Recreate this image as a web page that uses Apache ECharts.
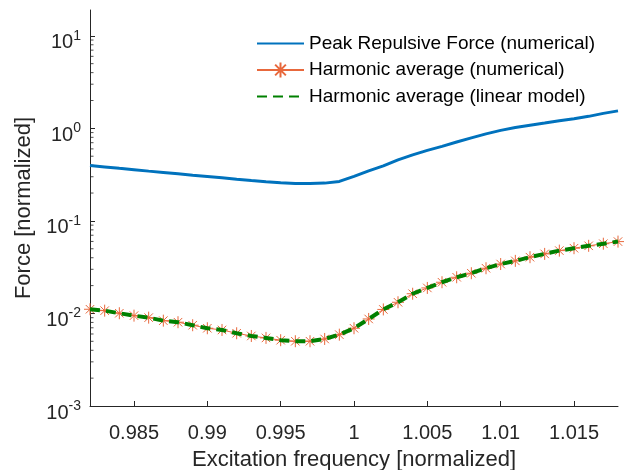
<!DOCTYPE html>
<html>
<head>
<meta charset="utf-8">
<script src="https://cdn.jsdelivr.net/npm/echarts@6/dist/echarts.min.js"></script>
<style>
html,body{margin:0;padding:0;background:#fff;}
#chart{width:631px;height:470px;}
</style>
</head>
<body>
<div id="chart"></div>
<script>
var freq = [0.982,0.983,0.984,0.985,0.986,0.987,0.988,0.989,0.990,0.991,0.992,0.993,0.994,0.995,0.996,0.997,0.998,0.999,1.000,
            1.001,1.002,1.003,1.004,1.005,1.006,1.007,1.008,1.009,1.010,1.011,1.012,1.013,1.014,1.015,1.016,1.017,1.018];
var peakForce = [0.396,0.383,0.370,0.358,0.345,0.334,0.323,0.312,0.302,0.292,0.282,0.273,0.265,0.259,0.254,0.254,0.256,0.267,0.303,
                 0.347,0.393,0.457,0.517,0.578,0.639,0.711,0.789,0.872,0.951,1.023,1.081,1.141,1.205,1.267,1.348,1.452,1.545];
var harmNumerical = [0.01110,0.01072,0.01005,0.00947,0.00901,0.00836,0.00804,0.00746,0.00692,0.00663,0.00611,0.00571,0.00544,0.00514,0.00501,0.00501,0.00530,0.00590,0.00692,
                     0.00872,0.01105,0.01321,0.01633,0.01887,0.02174,0.02461,0.02720,0.03081,0.03420,0.03700,0.04055,0.04400,0.04775,0.05070,0.05380,0.05670,0.05975];
var harmLinear = [0.01110,0.01072,0.01005,0.00947,0.00901,0.00836,0.00804,0.00746,0.00692,0.00663,0.00611,0.00571,0.00544,0.00514,0.00501,0.00501,0.00530,0.00590,0.00692,
                  0.00872,0.01105,0.01321,0.01633,0.01887,0.02174,0.02461,0.02720,0.03081,0.03420,0.03700,0.04055,0.04400,0.04775,0.05070,0.05380,0.05670,0.05975];
var xTicks = [0.985,0.990,0.995,1.000,1.005,1.010,1.015];
var yMajorTicks = [0.001,0.01,0.1,1,10];
var yMinorTicks = [0.002,0.003,0.004,0.005,0.006,0.007,0.008,0.009,
                   0.02,0.03,0.04,0.05,0.06,0.07,0.08,0.09,
                   0.2,0.3,0.4,0.5,0.6,0.7,0.8,0.9,
                   2,3,4,5,6,7,8,9];
var xMin = 0.982, xMax = 1.018, yMin = 0.001, yMax = 19;
var seriesNames = ['Peak Repulsive Force (numerical)','Harmonic average (numerical)','Harmonic average (linear model)'];

function pairs(ys){ return freq.map(function(f,i){ return [f, ys[i]]; }); }

var FONT = 'Liberation Sans, Arial, sans-serif';
var AX = '#262626';
var asterisk = 'path://M0,-10L0,10M-10,0L10,0M-7.07,-7.07L7.07,7.07M-7.07,7.07L7.07,-7.07';
var noSym = {color: 'rgba(0,0,0,0)', borderWidth: 0, borderColor: 'rgba(0,0,0,0)'};

var chart = echarts.init(document.getElementById('chart'), null, {renderer:'canvas'});
chart.setOption({
  animation: false,
  backgroundColor: '#fff',
  textStyle: {fontFamily: FONT},
  grid: {left: 90, right: 13, top: 10, bottom: 64, containLabel: false, outerBoundsMode: 'none'},
  legend: {
    orient: 'vertical', left: 256, top: 34, padding: 0,
    itemWidth: 47, itemHeight: 19, itemGap: 7.5,
    textStyle: {fontSize: 19, color: '#000', fontFamily: FONT},
    data: [
      {name: seriesNames[0], itemStyle: noSym},
      {name: seriesNames[1]},
      {name: seriesNames[2], itemStyle: noSym}
    ]
  },
  xAxis: {
    type: 'value', min: xMin, max: xMax,
    name: 'Excitation frequency [normalized]', nameLocation: 'middle', nameGap: 43,
    nameTextStyle: {fontSize: 22, color: AX, fontFamily: FONT},
    axisLine: {show: true, lineStyle: {color: AX, width: 1}},
    axisTick: {show: true, inside: true, length: 5, customValues: xTicks, lineStyle: {color: AX}},
    axisLabel: {show: true, customValues: xTicks, fontSize: 20, color: AX, margin: 17, fontFamily: FONT,
      formatter: function(v){ return String(+(+v).toFixed(3)); }},
    splitLine: {show: false}
  },
  yAxis: {
    type: 'log', logBase: 10, min: yMin, max: yMax,
    name: 'Force [normalized]', nameLocation: 'middle', nameGap: 52, nameRotate: 90,
    nameTextStyle: {fontSize: 22, color: AX, fontFamily: FONT},
    axisLine: {show: true, lineStyle: {color: AX, width: 1}},
    axisTick: {show: true, inside: true, length: 5, customValues: yMajorTicks, lineStyle: {color: AX}},
    axisLabel: {show: true, customValues: yMajorTicks, margin: 9, color: AX, fontFamily: FONT,
      formatter: function(v){ var k = Math.round(Math.log(v)/Math.LN10); return '{b|10}{s|' + k + '}'; },
      rich: {
        b: {fontSize: 20, color: AX, fontFamily: FONT, lineHeight: 34, verticalAlign: 'bottom'},
        s: {fontSize: 14, color: AX, fontFamily: FONT, verticalAlign: 'bottom', padding: [0, 0, 10, 0]}
      }},
    splitLine: {show: false}
  },
  series: [{
    name: 'minorTicks', type: 'scatter', silent: true,
    data: yMinorTicks.map(function(v){ return [xMin, v]; }),
    symbol: 'rect', symbolSize: [3, 1], symbolOffset: [2, 0],
    itemStyle: {color: AX}, z: 1
  }, {
    name: seriesNames[0], type: 'line', data: pairs(peakForce),
    symbol: 'none', smooth: false,
    lineStyle: {color: '#0072BD', width: 3}, itemStyle: {color: '#0072BD'}, z: 2
  }, {
    name: seriesNames[1], type: 'line', data: pairs(harmNumerical),
    symbol: asterisk, symbolSize: 12, showSymbol: true,
    lineStyle: {color: '#E8683C', width: 1},
    itemStyle: {color: 'rgba(0,0,0,0)', borderColor: '#E8683C', borderWidth: 1}, z: 3
  }, {
    name: seriesNames[2], type: 'line', data: pairs(harmLinear),
    symbol: 'none',
    lineStyle: {color: '#008000', width: 4, type: [10, 6]}, itemStyle: {color: '#008000'}, z: 4
  }]
});
</script>
</body>
</html>
